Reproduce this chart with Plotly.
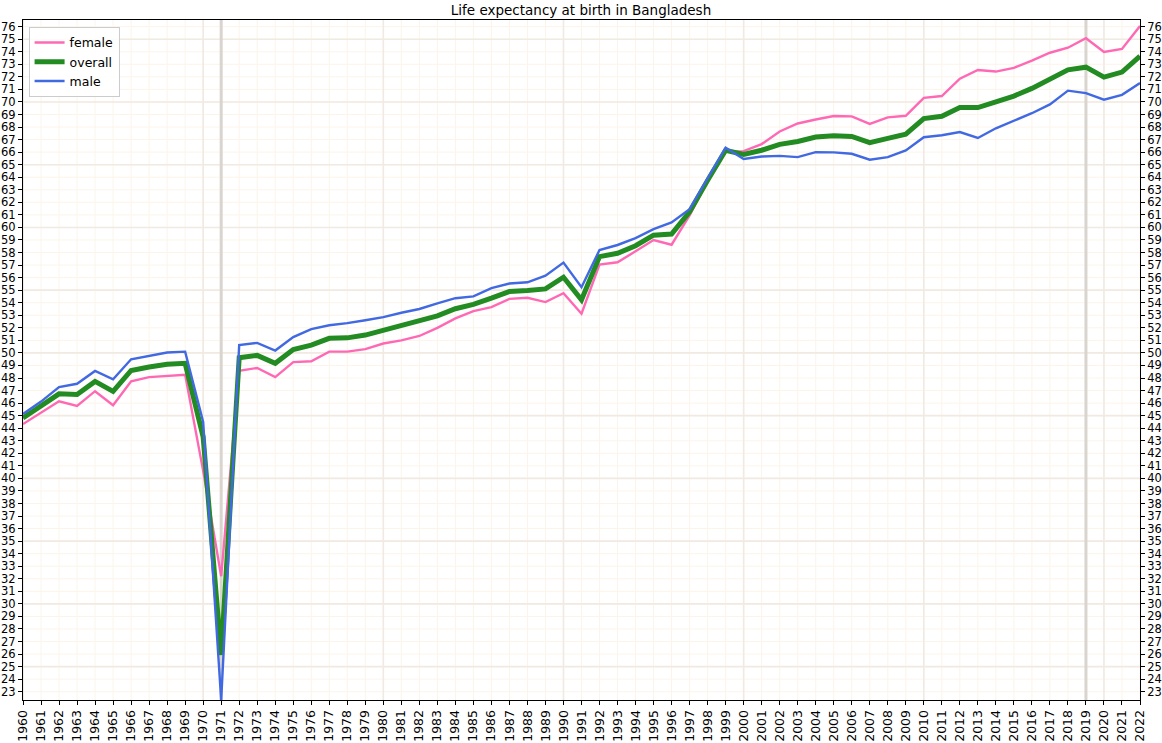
import plotly.graph_objects as go

years = list(range(1960, 2023))

female = [44.33, 45.21, 46.15, 45.78, 46.95, 45.83, 47.73, 48.07, 48.18, 48.25,
          40.6, 32.2, 48.58, 48.8, 48.07, 49.27, 49.33, 50.1, 50.1, 50.3,
          50.75, 51.0, 51.35, 52.0, 52.75, 53.33, 53.65, 54.31, 54.39, 54.05,
          54.76, 53.12, 57.04, 57.22, 58.1, 59.0, 58.62, 60.95, 63.7, 66.04,
          66.08, 66.64, 67.65, 68.28, 68.6, 68.88, 68.85, 68.25, 68.77, 68.9,
          70.32, 70.47, 71.85, 72.55, 72.42, 72.72, 73.3, 73.92, 74.32, 75.08,
          73.98, 74.22, 76.05]

overall = [44.81, 45.72, 46.74, 46.68, 47.73, 46.93, 48.6, 48.88, 49.09, 49.17,
           43.3, 25.93, 49.62, 49.8, 49.17, 50.27, 50.62, 51.16, 51.2, 51.42,
           51.8, 52.1, 52.5, 52.95, 53.52, 53.86, 54.36, 54.9, 54.97, 55.1,
           56.03, 54.23, 57.67, 57.94, 58.54, 59.38, 59.47, 61.25, 63.75, 66.15,
           65.82, 66.15, 66.62, 66.85, 67.2, 67.3, 67.25, 66.75, 67.1, 67.43,
           68.67, 68.86, 69.55, 69.55, 70.0, 70.47, 71.08, 71.8, 72.56, 72.77,
           71.98, 72.38, 73.65]

male = [45.13, 46.12, 47.27, 47.54, 48.56, 47.89, 49.49, 49.76, 50.03, 50.1,
        44.5, 22.34, 50.62, 50.8, 50.19, 51.26, 51.9, 52.2, 52.37, 52.6,
        52.85, 53.2, 53.5, 53.95, 54.36, 54.5, 55.16, 55.53, 55.63, 56.16,
        57.2, 55.24, 58.2, 58.6, 59.15, 59.87, 60.4, 61.46, 63.9, 66.35,
        65.45, 65.65, 65.7, 65.6, 66.0, 65.98, 65.87, 65.4, 65.6, 66.13,
        67.19, 67.35, 67.6, 67.13, 67.9, 68.5, 69.1, 69.8, 70.9, 70.7,
        70.18, 70.57, 71.5]

highlight_years = [1971, 2019]
y_ticks = list(range(23, 77))
x_major = list(range(1960, 2023, 10))
y_major = list(range(25, 77, 5))

Y_MIN, Y_MAX = 22.34, 76.53
FONT = "DejaVu Sans"
MINOR_GRID = "#fcf4ea"
MAJOR_GRID = "#f0eae2"

fig = go.Figure()
fig.add_trace(go.Scatter(x=years, y=female, mode="lines", name="female",
                         line=dict(color="#ff69b4", width=2.4)))
fig.add_trace(go.Scatter(x=years, y=overall, mode="lines", name="overall",
                         line=dict(color="#228b22", width=5)))
fig.add_trace(go.Scatter(x=years, y=male, mode="lines", name="male",
                         line=dict(color="#4169e1", width=2.4)))
# invisible trace to activate right-hand axis
fig.add_trace(go.Scatter(x=[years[0]], y=[overall[0]], mode="lines", yaxis="y2",
                         showlegend=False, hoverinfo="skip", opacity=0))

shapes = []
# minor grid
for xv in years:
    shapes.append(dict(type="line", xref="x", yref="paper", x0=xv, x1=xv, y0=0, y1=1,
                       line=dict(color=MINOR_GRID, width=1), layer="below"))
for yv in y_ticks:
    shapes.append(dict(type="line", xref="paper", yref="y", x0=0, x1=1, y0=yv, y1=yv,
                       line=dict(color=MINOR_GRID, width=1), layer="below"))
# major grid
for xv in x_major:
    shapes.append(dict(type="line", xref="x", yref="paper", x0=xv, x1=xv, y0=0, y1=1,
                       line=dict(color=MAJOR_GRID, width=1.6), layer="below"))
for yv in y_major:
    shapes.append(dict(type="line", xref="paper", yref="y", x0=0, x1=1, y0=yv, y1=yv,
                       line=dict(color=MAJOR_GRID, width=1.6), layer="below"))
# highlighted years
for xv in highlight_years:
    shapes.append(dict(type="line", xref="x", yref="paper", x0=xv, x1=xv, y0=0, y1=1,
                       line=dict(color="#d9d5ce", width=3), layer="below"))

fig.update_layout(
    width=1162, height=743,
    margin=dict(l=23, r=22, t=20, b=43, autoexpand=False),
    paper_bgcolor="white", plot_bgcolor="white",
    font=dict(family=FONT, color="black"),
    title=dict(text="Life expectancy at birth in Bangladesh", x=0.5, xanchor="center",
               y=(743 - 10.5) / 743, yref="container", yanchor="middle",
               font=dict(size=13.5, family=FONT, color="black")),
    showlegend=True,
    legend=dict(x=0.005, y=0.99, xanchor="left", yanchor="top",
                bgcolor="rgba(255,255,255,0.85)", bordercolor="#cccccc", borderwidth=1,
                font=dict(size=12.5, family=FONT), tracegroupgap=0),
    shapes=shapes,
    xaxis=dict(range=[1960, 2022], tickvals=years, ticktext=[str(y) for y in years],
               tickangle=-90, tickfont=dict(size=12.5), ticks="outside", ticklen=4,
               tickcolor="black", showgrid=False, automargin=False,
               showline=True, linecolor="black", linewidth=1, mirror=True,
               zeroline=False),
    yaxis=dict(range=[Y_MIN, Y_MAX], tickvals=y_ticks, tickfont=dict(size=11.5),
               ticks="outside", ticklen=4, tickcolor="black", showgrid=False,
               automargin=False, showline=True, linecolor="black",
               linewidth=1, mirror=True, zeroline=False),
    yaxis2=dict(range=[Y_MIN, Y_MAX], tickvals=y_ticks, tickfont=dict(size=11.5),
                overlaying="y", side="right", ticks="outside", ticklen=4,
                tickcolor="black", showgrid=False, zeroline=False, showline=False,
                automargin=False),
)

fig.write_html(
    "out.html",
    config={"displayModeBar": False},
    post_script="document.body.style.margin='0px';document.body.style.padding='0px';"
                "document.body.style.overflow='hidden';",
)
